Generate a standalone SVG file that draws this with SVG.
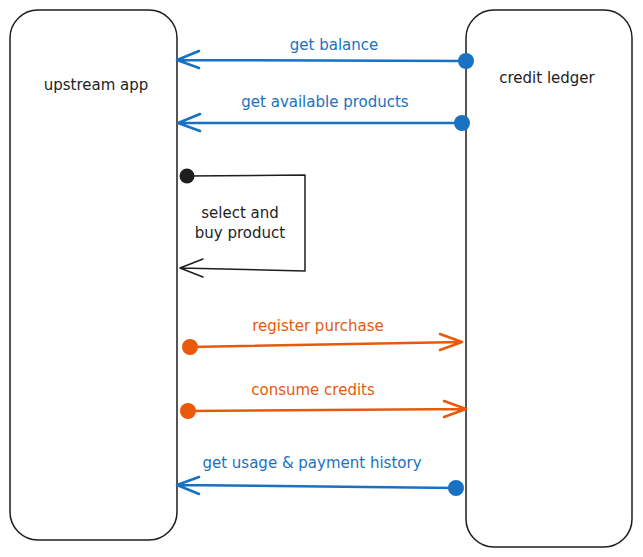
<svg xmlns="http://www.w3.org/2000/svg" width="643" height="557" viewBox="0 0 643 557">
<style>
.box{fill:#fff;stroke:#1e1e1e;stroke-width:1.5}
.t{font-family:"DejaVu Sans","Liberation Sans",sans-serif;font-size:15px;text-anchor:middle}
.tb{fill:#1e1e1e}
.blue{stroke:#1971c2;fill:none;stroke-width:2.5;stroke-linecap:round;stroke-linejoin:round}
.orange{stroke:#e8590c;fill:none;stroke-width:2.5;stroke-linecap:round;stroke-linejoin:round}
.black{stroke:#1e1e1e;fill:none;stroke-width:1.5;stroke-linecap:round;stroke-linejoin:round}
.lb{fill:#1971c2}
.lo{fill:#e8590c}
</style>
<rect width="643" height="557" fill="#fff"/>
<g id="upstream-app">
<rect class="box" x="10" y="10" width="167" height="530" rx="28"/>
<text class="t tb" x="96" y="90">upstream app</text>
</g>
<g id="credit-ledger">
<rect class="box" x="466" y="10" width="166" height="537" rx="28"/>
<text class="t tb" x="547" y="83">credit ledger</text>
</g>
<g id="connectors">
<g id="c-balance">
<path class="blue" d="M466 61 L177 60 M199 51 L177 60 L199 68"/>
<circle cx="466" cy="61" r="8" class="lb"/>
<text class="t lb" x="334" y="50">get balance</text>
</g>
<g id="c-products">
<path class="blue" d="M462 123 L178 123 M200 114 L178 123 L200 131"/>
<circle cx="462" cy="123" r="8" class="lb"/>
<text class="t lb" x="325" y="107">get available products</text>
</g>
<g id="c-select">
<path class="black" d="M187 176 L305 175 L305 271 L180 268 M203 259 L180 268 L203 277"/>
<circle cx="187" cy="176" r="7.5" fill="#1e1e1e"/>
<text class="t tb" x="240" y="218">select and</text>
<text class="t tb" x="240" y="238">buy product</text>
</g>
<g id="c-register">
<path class="orange" d="M190 347 L462 342 M440 334 L462 342 L440 350"/>
<circle cx="190" cy="347" r="8" class="lo"/>
<text class="t lo" x="318" y="331">register purchase</text>
</g>
<g id="c-consume">
<path class="orange" d="M188 411 L466 409 M444 401 L466 409 L444 417"/>
<circle cx="188" cy="411" r="8" class="lo"/>
<text class="t lo" x="313" y="395">consume credits</text>
</g>
<g id="c-history">
<path class="blue" d="M456 488 L177 485 M199 477 L177 485 L199 494"/>
<circle cx="456" cy="488" r="8" class="lb"/>
<text class="t lb" x="312" y="468">get usage &amp; payment history</text>
</g>
</g>
</svg>
